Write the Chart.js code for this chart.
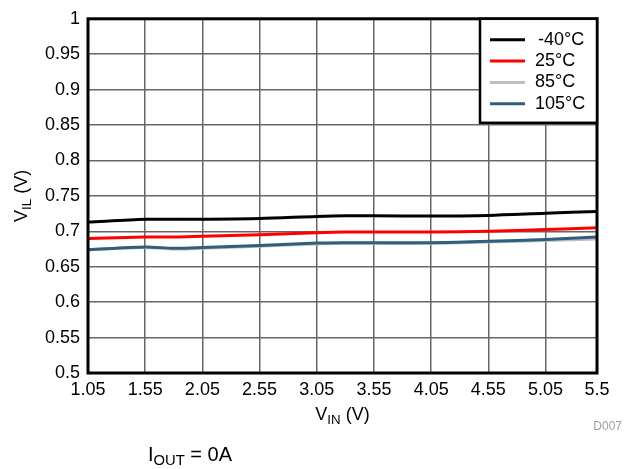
<!DOCTYPE html>
<html>
<head>
<meta charset="utf-8">
<script src="https://cdn.jsdelivr.net/npm/chart.js@4.4.1/dist/chart.umd.min.js"></script>
<style>
  html, body { margin: 0; padding: 0; background: #fff; }
  #wrap { width: 626px; height: 469px; }
</style>
</head>
<body>
<div id="wrap"><canvas id="myChart" width="626" height="469"></canvas></div>
<script>
const vin = [1.05, 1.55, 1.8, 2.05, 2.55, 3.05, 3.3, 3.55, 4.05, 4.55, 5.05, 5.5];
const vilM40 = [0.713, 0.717, 0.717, 0.717, 0.718, 0.721, 0.722, 0.722, 0.7215, 0.7225, 0.7255, 0.728];
const vil25 = [0.690, 0.692, 0.692, 0.693, 0.695, 0.698, 0.699, 0.699, 0.699, 0.700, 0.7025, 0.705];
const vil85 = [0.674, 0.677, 0.675, 0.676, 0.679, 0.682, 0.683, 0.683, 0.683, 0.685, 0.687, 0.689];
const vil105 = [0.674, 0.678, 0.676, 0.677, 0.680, 0.6835, 0.684, 0.684, 0.684, 0.686, 0.6886, 0.692];
const seriesLabels = [" -40°C", "25°C", "85°C", "105°C"];
const seriesColors = ["#000000", "#ff0000", "#bdbdbd", "#2f5f7c"];
const xTicks = [1.05, 1.55, 2.05, 2.55, 3.05, 3.55, 4.05, 4.55, 5.05, 5.5];

const FONT = "Liberation Sans, Arial, sans-serif";

function pts(ys) {
  return vin.map((x, i) => ({ x: x, y: ys[i] }));
}

// text with a subscript part, e.g. V + IN + " (V)"
function drawParts(ctx, parts, x, y, size) {
  ctx.textBaseline = "alphabetic";
  ctx.textAlign = "left";
  let w = 0;
  parts.forEach(p => {
    ctx.font = (p.sub ? size * 0.74 : size) + "px " + FONT;
    w += ctx.measureText(p.t).width;
  });
  let cx = x - w / 2;
  parts.forEach(p => {
    ctx.font = (p.sub ? size * 0.74 : size) + "px " + FONT;
    ctx.fillText(p.t, cx, p.sub ? y + size * 0.22 : y);
    cx += ctx.measureText(p.t).width;
  });
}

const extras = {
  id: "extras",
  afterDraw(chart) {
    const ctx = chart.ctx;
    const a = chart.chartArea;
    ctx.save();

    // plot frame
    ctx.strokeStyle = "#000";
    ctx.lineWidth = 3;
    ctx.strokeRect(a.left, a.top, a.right - a.left, a.bottom - a.top);

    // legend box
    const lx = 480, ly = a.top, lw = a.right - 480, lh = 104;
    ctx.fillStyle = "#fff";
    ctx.fillRect(lx, ly, lw, lh);
    ctx.lineWidth = 2.5;
    ctx.strokeRect(lx, ly, lw, lh);
    ctx.font = "18px " + FONT;
    ctx.textBaseline = "middle";
    ctx.textAlign = "left";
    seriesLabels.forEach((lab, i) => {
      const yy = ly + 21 + i * 21.3;
      ctx.strokeStyle = seriesColors[i];
      ctx.lineWidth = 3;
      ctx.beginPath();
      ctx.moveTo(490, yy);
      ctx.lineTo(525, yy);
      ctx.stroke();
      ctx.fillStyle = "#000";
      ctx.fillText(lab, i === 0 ? 533 : 535, yy);
    });

    // axis titles
    ctx.fillStyle = "#000";
    drawParts(ctx, [{ t: "V" }, { t: "IN", sub: true }, { t: " (V)" }], (a.left + a.right) / 2, 420, 18);
    ctx.save();
    ctx.translate(27, (a.top + a.bottom) / 2);
    ctx.rotate(-Math.PI / 2);
    drawParts(ctx, [{ t: "V" }, { t: "IL", sub: true }, { t: " (V)" }], 0, 0, 18);
    ctx.restore();

    // figure id and test condition
    ctx.fillStyle = "#a0a0a0";
    ctx.font = "12px " + FONT;
    ctx.textAlign = "right";
    ctx.textBaseline = "alphabetic";
    ctx.fillText("D007", 622, 430);
    ctx.fillStyle = "#000";
    drawParts(ctx, [{ t: "I" }, { t: "OUT", sub: true }, { t: " = 0A" }], 190, 461, 20);
    ctx.restore();
  }
};

const config = {
  type: "line",
  data: {
    datasets: [
      { label: seriesLabels[0], data: pts(vilM40), borderColor: seriesColors[0], order: 1 },
      { label: seriesLabels[1], data: pts(vil25), borderColor: seriesColors[1], order: 2 },
      { label: seriesLabels[2], data: pts(vil85), borderColor: seriesColors[2], order: 4 },
      { label: seriesLabels[3], data: pts(vil105), borderColor: seriesColors[3], order: 3 },
    ],
  },
  options: {
    responsive: false,
    animation: false,
    layout: { padding: { top: 15, right: 29, left: 0, bottom: 0 } },
    elements: {
      point: { radius: 0 },
      line: { borderWidth: 3, tension: 0.3, fill: false },
    },
    scales: {
      x: {
        type: "linear",
        min: 1.05,
        max: 5.5,
        afterBuildTicks: (scale) => {
          scale.ticks = xTicks.map(v => ({ value: v }));
        },
        afterFit: (scale) => { scale.height = 96; },
        grid: { color: "#666", lineWidth: 1.5, drawTicks: false },
        border: { display: false },
        ticks: {
          color: "#000",
          padding: 6,
          maxRotation: 0,
          font: { family: FONT, size: 18 },
          callback: (v) => String(v),
        },
      },
      y: {
        min: 0.5,
        max: 1,
        afterFit: (scale) => { scale.width = 88; },
        grid: { color: "#666", lineWidth: 1.5, drawTicks: false },
        border: { display: false },
        ticks: {
          color: "#000",
          stepSize: 0.05,
          padding: 8,
          font: { family: FONT, size: 18 },
          callback: (v) => String(Number(v.toFixed(2))),
        },
      },
    },
    plugins: {
      legend: { display: false },
      title: { display: false },
      tooltip: { enabled: false },
    },
  },
  plugins: [extras],
};

const ctx = document.getElementById("myChart").getContext("2d");
new Chart(ctx, config);
</script>
</body>
</html>
